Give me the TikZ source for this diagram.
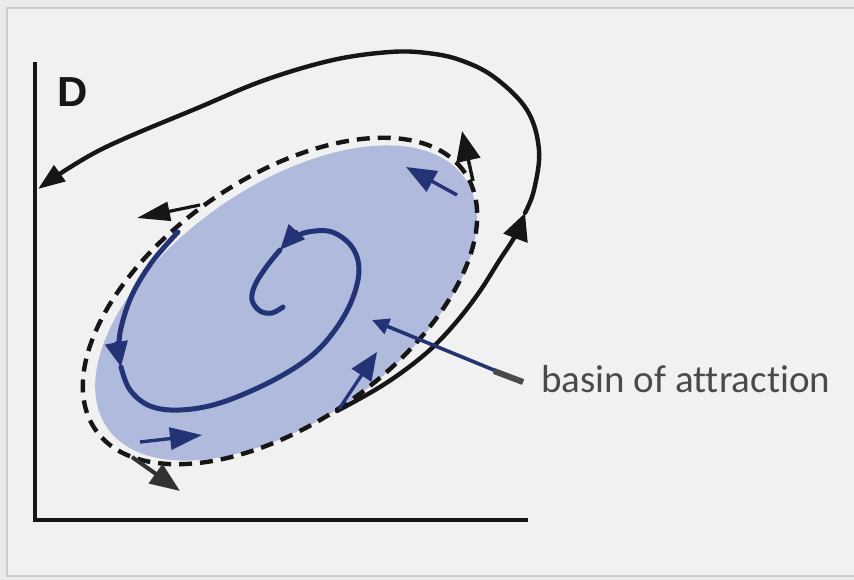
\documentclass[tikz,border=0pt]{standalone}
\usepackage{fontspec}
\usetikzlibrary{arrows.meta}
\newfontfamily\labelfont[Ligatures=NoCommon]{Carlito}
\newfontfamily\axisfont{Liberation Sans}
\definecolor{bgcol}{RGB}{234,234,234}
\definecolor{panelcol}{RGB}{241,241,241}
\definecolor{framecol}{RGB}{205,205,205}
\definecolor{basinfill}{RGB}{176,186,221}
\definecolor{navy}{RGB}{36,50,118}
\definecolor{inkblack}{RGB}{22,22,22}
\definecolor{darkgray}{RGB}{50,50,50}
\definecolor{labelgray}{RGB}{74,74,74}
\begin{document}
\begin{tikzpicture}[x=1pt,y=1pt,
  traj/.style={line width=4.4pt, draw=inkblack, line cap=round, line join=round},
  spiralline/.style={line width=5pt, draw=navy, line cap=round, line join=round},
  boundary/.style={line width=4.4pt, draw=inkblack, dash pattern=on 13pt off 8pt},
  axisline/.style={line width=4.2pt, draw=inkblack}]
\fill[bgcol] (0,0) rectangle (854,-580);
\useasboundingbox (0,0) rectangle (854,-580);
\draw[framecol, fill=panelcol, line width=1.2pt] (7,-8) rectangle (870,-576);

% axes
\coordinate (ytop) at (35,-62);
\coordinate (origin) at (35,-520);
\coordinate (xend) at (528,-520);
\draw[axisline] (ytop) -- (origin) -- (xend);
\node[text=inkblack, inner sep=0] (dlab) at (73,-92) {\axisfont\bfseries\fontsize{42}{48}\selectfont D};

% basin fill
\fill[basinfill] (286,-303) ellipse [x radius=218, y radius=117, rotate=35];

% spiral
\draw[spiralline, -{Triangle[length=25pt,width=22pt]}] plot[smooth, tension=0.6] coordinates
  {(178,-232) (152,-262) (132,-295) (121,-328) (119,-350) (121,-367)};
\draw[spiralline, -{Triangle[length=25pt,width=21pt]}] plot[smooth, tension=0.6] coordinates
  {(121,-367) (130,-390) (150,-406) (180,-410) (220,-403) (270,-382) (310,-357) (335,-330) (352,-300) (359,-270) (352,-247) (332,-232) (308,-232) (292,-239) (280,-250)};
\draw[spiralline] plot[smooth, tension=0.6] coordinates
  {(280,-250) (267,-266) (255,-285) (252,-300) (260,-311) (272,-313) (283,-307)};

% basin boundary
\draw[boundary] (280,-301) ellipse [x radius=225, y radius=122, rotate=35];

% outer trajectory
\coordinate (tstart) at (337,-411);
\coordinate (tmid) at (525,-213);
\coordinate (thit) at (38,-189);
\draw[traj, -{Triangle[length=27pt,width=25pt]}] plot[smooth, tension=0.6] coordinates
  {(337,-411) (375,-390) (405,-370) (433,-347) (458,-320) (480,-291) (499,-261) (515,-236) (525,-213)};
\draw[traj, -{Triangle[length=27pt,width=19pt]}] plot[smooth, tension=0.6] coordinates
  {(525,-213) (534,-190) (539,-150) (527,-110) (494,-77) (460,-60) (427,-53) (390,-52) (333,-60) (265,-80) (200,-107) (100,-150) (38,-189)};

% small arrows
\coordinate (a1s) at (200,-205); \coordinate (a1e) at (137,-218);
\draw[line width=3.2pt, inkblack, -{Triangle[length=33pt,width=19pt]}] (a1s) -- (a1e);
\coordinate (a2s) at (473,-181); \coordinate (a2e) at (462,-131);
\draw[line width=3.4pt, inkblack, -{Triangle[length=30pt,width=24pt]}] (a2s) -- (a2e);
\coordinate (a3s) at (457,-195); \coordinate (a3e) at (406,-167);
\draw[line width=3.4pt, navy, -{Triangle[length=30pt,width=23pt]}] (a3s) -- (a3e);
\coordinate (a4s) at (339,-409); \coordinate (a4e) at (377,-352);
\draw[line width=3.2pt, navy, -{Triangle[length=28pt,width=23pt]}] (a4s) -- (a4e);
\coordinate (a5s) at (140,-442); \coordinate (a5e) at (202,-435);
\draw[line width=3.4pt, navy, -{Triangle[length=32pt,width=22pt]}] (a5s) -- (a5e);
\coordinate (a6s) at (132,-457); \coordinate (a6e) at (180,-491);
\draw[line width=4pt, darkgray, -{Triangle[length=30pt,width=23pt]}] (a6s) -- (a6e);

% label and pointer
\node[anchor=base west, inner sep=0, text=labelgray] (lab) at (541,-392)
  {\labelfont\fontsize{39}{46}\selectfont basin of attraction};
\coordinate (ptip) at (372,-320);
\coordinate (pbend) at (494,-371);
\coordinate (pend) at (523,-382);
\draw[navy, line width=3.6pt, -{Triangle[length=17pt,width=16pt]}] (pend) -- (ptip);
\draw[labelgray, line width=6pt] (pbend) -- (pend);
\end{tikzpicture}
\end{document}
